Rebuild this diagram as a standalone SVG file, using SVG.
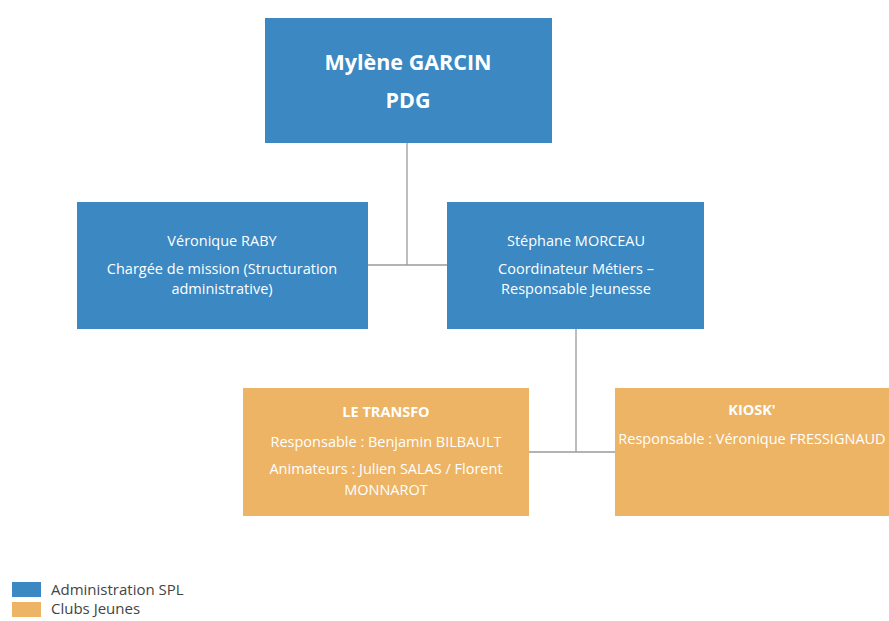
<svg xmlns="http://www.w3.org/2000/svg" width="889" height="621" viewBox="0 0 889 621">
<style>
.blue{fill:#3b88c3}
.orange{fill:#ecb464}
text{font-family:"Open Sans","Liberation Sans",sans-serif;fill:#ffffff;text-anchor:middle}
.t{font-size:14.5px}
.b{font-weight:bold}
.big{font-size:21.5px;font-weight:bold}
.leg{fill:#444;text-anchor:start;font-size:15px}
.conn{stroke:#9a9a9a;stroke-width:1.3;fill:none}
</style>
<rect width="889" height="621" fill="#ffffff"/>
<g id="connectors">
<path class="conn" d="M407 143 V265 M368 265 H447"/>
<path class="conn" d="M576 329 V452 M529 452 H615"/>
</g>
<g id="pdg">
<rect class="blue" x="265" y="18" width="287" height="125"/>
<text class="big" x="408" y="70">Mylène GARCIN</text>
<text class="big" x="408" y="108">PDG</text>
</g>
<g id="raby">
<rect class="blue" x="77" y="202" width="291" height="127"/>
<text class="t" x="222" y="246">Véronique RABY</text>
<text class="t" x="222" y="274">Chargée de mission (Structuration</text>
<text class="t" x="222" y="294">administrative)</text>
</g>
<g id="morceau">
<rect class="blue" x="447" y="202" width="257" height="127"/>
<text class="t" x="576" y="246">Stéphane MORCEAU</text>
<text class="t" x="576" y="274">Coordinateur Métiers –</text>
<text class="t" x="576" y="294">Responsable Jeunesse</text>
</g>
<g id="transfo">
<rect class="orange" x="243" y="388" width="286" height="128"/>
<text class="t b" x="386" y="417">LE TRANSFO</text>
<text class="t" x="386" y="447">Responsable : Benjamin BILBAULT</text>
<text class="t" x="386" y="474">Animateurs : Julien SALAS / Florent</text>
<text class="t" x="386" y="495">MONNAROT</text>
</g>
<g id="kiosk">
<rect class="orange" x="615" y="388" width="274" height="128"/>
<text class="t b" x="752" y="415">KIOSK'</text>
<text class="t" x="752" y="444">Responsable : Véronique FRESSIGNAUD</text>
</g>
<g id="legend">
<rect class="blue" x="12" y="582" width="29" height="15"/>
<text class="leg" x="51" y="595">Administration SPL</text>
<rect class="orange" x="12" y="602" width="29" height="15"/>
<text class="leg" x="51" y="614">Clubs Jeunes</text>
</g>
</svg>
